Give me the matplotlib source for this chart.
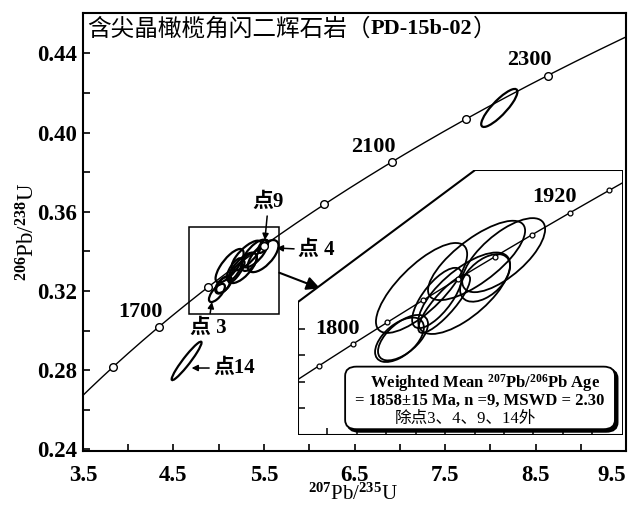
import numpy as np
import matplotlib
matplotlib.use('Agg')
import matplotlib.pyplot as plt
import matplotlib.transforms as mtransforms
from matplotlib.patches import Ellipse, Polygon, Rectangle, FancyBboxPatch

plt.rcParams['font.family'] = ['Liberation Serif', 'Noto Sans CJK SC']
plt.rcParams['mathtext.fontset'] = 'custom'
plt.rcParams['mathtext.rm'] = 'Liberation Serif:bold'
plt.rcParams['mathtext.bf'] = 'Liberation Serif:bold'
plt.rcParams['mathtext.it'] = 'Liberation Serif:bold:italic'
plt.rcParams['mathtext.default'] = 'rm'

# decay constants (1/yr)
LAMBDA_238 = 1.55125e-10
LAMBDA_235 = 9.8485e-10

# zircon spots: ratios, half-width of error ellipse, error correlation
spot_id = [1, 2, 3, 4, 5, 6, 7, 8, 9, 10, 11, 12, 13, 14]
r207_235 = [5.045, 5.057, 4.980, 5.490, 5.120, 5.265, 8.100,
            5.336, 5.490, 5.399, 5.307, 5.197, 5.173, 4.645]
err_207_235 = [0.083, 0.085, 0.088, 0.170, 0.155, 0.156, 0.200,
               0.085, 0.055, 0.141, 0.165, 0.088, 0.085, 0.165]
r206_238 = [0.3229, 0.3233, 0.3190, 0.3376, 0.3327, 0.3317, 0.4124,
            0.3346, 0.3425, 0.3389, 0.3379, 0.3297, 0.3308, 0.2847]
err_206_238 = [0.0042, 0.0043, 0.0046, 0.0081, 0.0085, 0.0077, 0.0096,
               0.0045, 0.0033, 0.0070, 0.0075, 0.0055, 0.0057, 0.0097]
rho = [0.55, 0.60, 0.70, 0.65, 0.75, 0.70, 0.85,
       0.50, 0.60, 0.70, 0.75, 0.85, 0.72, 0.95]
not_in_mean = [3, 4, 7, 9, 14]

# concordia age ticks (Ma)
main_ages = [1600, 1700, 1800, 1900, 2000, 2100, 2200, 2300]
main_age_labels = [1700, 2100, 2300]
inset_ages = [1760, 1780, 1800, 1820, 1840, 1860, 1880, 1900, 1920, 1940]
inset_age_labels = [1800, 1920]

x_ticks = [3.5, 4.5, 5.5, 6.5, 7.5, 8.5, 9.5]
y_ticks = [0.24, 0.28, 0.32, 0.36, 0.40, 0.44]

title_cn = '含尖晶橄榄角闪二辉石岩（'
title_sample = 'PD-15b-02'
result_lines = ['Weighted Mean $^{207}$Pb/$^{206}$Pb Age',
                '= 1858±15 Ma, n =9, MSWD = 2.30',
                '除点3、4、9、14外']


def concordia(t_ma):
    t = np.asarray(t_ma) * 1e6
    return np.exp(LAMBDA_235 * t) - 1, np.exp(LAMBDA_238 * t) - 1


def error_ellipse(x, y, ex, ey, r, lw):
    cov = np.array([[ex ** 2, r * ex * ey], [r * ex * ey, ey ** 2]])
    vals, vecs = np.linalg.eigh(cov)
    angle = np.degrees(np.arctan2(vecs[1, 1], vecs[0, 1]))
    return Ellipse((x, y), 2 * np.sqrt(vals[1]), 2 * np.sqrt(vals[0]),
                   angle=angle, fill=False, edgecolor='black', lw=lw)


fig = plt.figure(figsize=(6.3, 5.05), dpi=100)
ax = fig.add_axes([0.1317, 0.1069, 0.862, 0.868])

t_curve = np.linspace(1450, 2450, 600)
cx, cy = concordia(t_curve)
ax.plot(cx, cy, color='black', lw=1.0, zorder=2)
mx, my = concordia(main_ages)
ax.plot(mx, my, 'o', ms=5.5, mfc='white', mec='black', mew=1.0, zorder=3)
for age in main_age_labels:
    ax.annotate(str(age), concordia(age), xytext=(-13, 11), textcoords='offset points',
                ha='center', va='center', fontsize=16, fontweight='bold')

for i in range(len(spot_id)):
    ax.add_patch(error_ellipse(r207_235[i], r206_238[i], err_207_235[i],
                               err_206_238[i], rho[i], 1.6))

ax.set_xlim(3.5, 9.5)
ax.set_ylim(0.2392, 0.4605)
ax.set_xticks(x_ticks)
ax.set_xticks([4.0, 5.0, 6.0, 7.0, 8.0, 9.0], minor=True)
ax.set_yticks(y_ticks)
ax.set_yticks([0.26, 0.30, 0.34, 0.38, 0.42], minor=True)
ax.set_xticklabels(['%.1f' % v for v in x_ticks])
ax.set_yticklabels(['%.2f' % v for v in y_ticks])
ax.tick_params(which='both', direction='in', length=5, width=1.2,
               top=False, right=False)
ax.tick_params(axis='x', pad=10)
ax.tick_params(axis='y', pad=4)
for lab in ax.get_xticklabels() + ax.get_yticklabels():
    lab.set_fontsize(16.5)
    lab.set_fontweight('bold')
# last x label sits against the right edge
ax.get_xticklabels()[-1].set_horizontalalignment('right')
for sp in ax.spines.values():
    sp.set_linewidth(1.5)

ax.set_xlabel('$^{207}$Pb/$^{235}$U', fontsize=15)
ax.set_ylabel('$^{206}$Pb/$^{238}$U', fontsize=16.5)
ax.xaxis.set_label_coords(0.497, -0.075)
ax.yaxis.set_label_coords(-0.08, 0.5)

# title
t1 = ax.text(0.008, 0.963, title_cn, transform=ax.transAxes, fontsize=17,
             family='Noto Sans CJK SC', va='center', ha='left')
t2 = ax.annotate(title_sample, xy=(1, 0.5), xycoords=t1, va='center', ha='left',
                 fontsize=16, fontweight='bold')
ax.annotate('）', xy=(1, 0.5), xycoords=t2, va='center', ha='left',
            fontsize=17, family='Noto Sans CJK SC')

# zoom box and labelled spots
ax.add_patch(Rectangle((4.67, 0.3083), 1.0, 0.044, fill=False, lw=1.1, zorder=4))
arrow = dict(arrowstyle='-|>', color='black', lw=1.1, mutation_scale=9, shrinkA=1, shrinkB=0)
lab_font = dict(fontsize=15, fontweight='bold', ha='center', va='center',
                family=['Liberation Serif', 'Noto Sans CJK SC'])
ax.annotate('点9', xy=(5.51, 0.3457), xytext=(5.55, 0.3650), arrowprops=arrow, **lab_font)
ax.annotate('点 4', xy=(5.64, 0.3417), xytext=(6.08, 0.3407), arrowprops=arrow, **lab_font)
ax.annotate('点 3', xy=(4.925, 0.3144), xytext=(4.88, 0.3015), arrowprops=arrow, **lab_font)
ax.annotate('点14', xy=(4.70, 0.2811), xytext=(5.17, 0.2811), arrowprops=arrow, **lab_font)
ax.annotate('', xy=(6.12, 0.3213), xytext=(5.67, 0.3292), annotation_clip=False,
            arrowprops=dict(arrowstyle='-|>', color='black', lw=1.5,
                            mutation_scale=20, shrinkA=0, shrinkB=0))

# magnified inset
ax_in = fig.add_axes([0.473, 0.1386, 0.516, 0.5248])
ax_in.patch.set_visible(False)
for sp in ax_in.spines.values():
    sp.set_visible(False)
frame = Polygon([(0, 0.502), (0.545, 1.0), (1.0, 1.0), (1.0, 0.0), (0, 0)],
                closed=True, transform=ax_in.transAxes, facecolor='white',
                edgecolor='black', lw=1.5, zorder=0)
ax_in.add_patch(frame)

line, = ax_in.plot(cx, cy, color='black', lw=1.0, zorder=2)
line.set_clip_path(frame)
imx, imy = concordia(inset_ages)
pts, = ax_in.plot(imx, imy, 'o', ms=3.5, mfc='white', mec='black', mew=0.9, zorder=3)
pts.set_clip_path(frame)
for age in inset_age_labels:
    ax_in.annotate(str(age), concordia(age), xytext=(-11, 11), textcoords='offset points',
                   ha='center', va='center', fontsize=16, fontweight='bold')
for i in range(len(spot_id)):
    if spot_id[i] in not_in_mean:
        continue
    e = ax_in.add_patch(error_ellipse(r207_235[i], r206_238[i], err_207_235[i],
                                      err_206_238[i], rho[i], 1.3))
    e.set_clip_path(frame)

ax_in.set_xlim(4.70, 5.805)
ax_in.set_ylim(0.3049, 0.3550)
ax_in.set_xticks([4.8, 4.9, 5.0, 5.1, 5.2, 5.3, 5.4, 5.5, 5.6, 5.7])
ax_in.set_yticks([0.31, 0.315, 0.32, 0.325])
ax_in.tick_params(direction='in', length=5, width=1.1, labelleft=False,
                  labelbottom=False)

# result box with drop shadow
shadow_tf = mtransforms.offset_copy(ax_in.transAxes, fig=fig, x=2.5, y=-2.5, units='dots')
box_kw = dict(boxstyle='round,pad=0,rounding_size=0.035')
ax_in.add_patch(FancyBboxPatch((0.145, 0.022), 0.83, 0.236, transform=shadow_tf,
                               facecolor='black', edgecolor='black', lw=1.5,
                               zorder=5, **box_kw))
ax_in.add_patch(FancyBboxPatch((0.145, 0.022), 0.83, 0.236, transform=ax_in.transAxes,
                               facecolor='white', edgecolor='black', lw=1.3,
                               zorder=6, **box_kw))
ax_in.text(0.575, 0.196, result_lines[0], transform=ax_in.transAxes, fontsize=12,
           fontweight='bold', ha='center', va='center', zorder=7)
ax_in.text(0.56, 0.128, result_lines[1], transform=ax_in.transAxes, fontsize=12,
           fontweight='bold', ha='center', va='center', zorder=7)
ax_in.text(0.515, 0.062, result_lines[2], transform=ax_in.transAxes, fontsize=12,
           ha='center', va='center', zorder=7,
           family=['Liberation Serif', 'Noto Sans CJK SC'])

fig.savefig('out.png', dpi=100)
